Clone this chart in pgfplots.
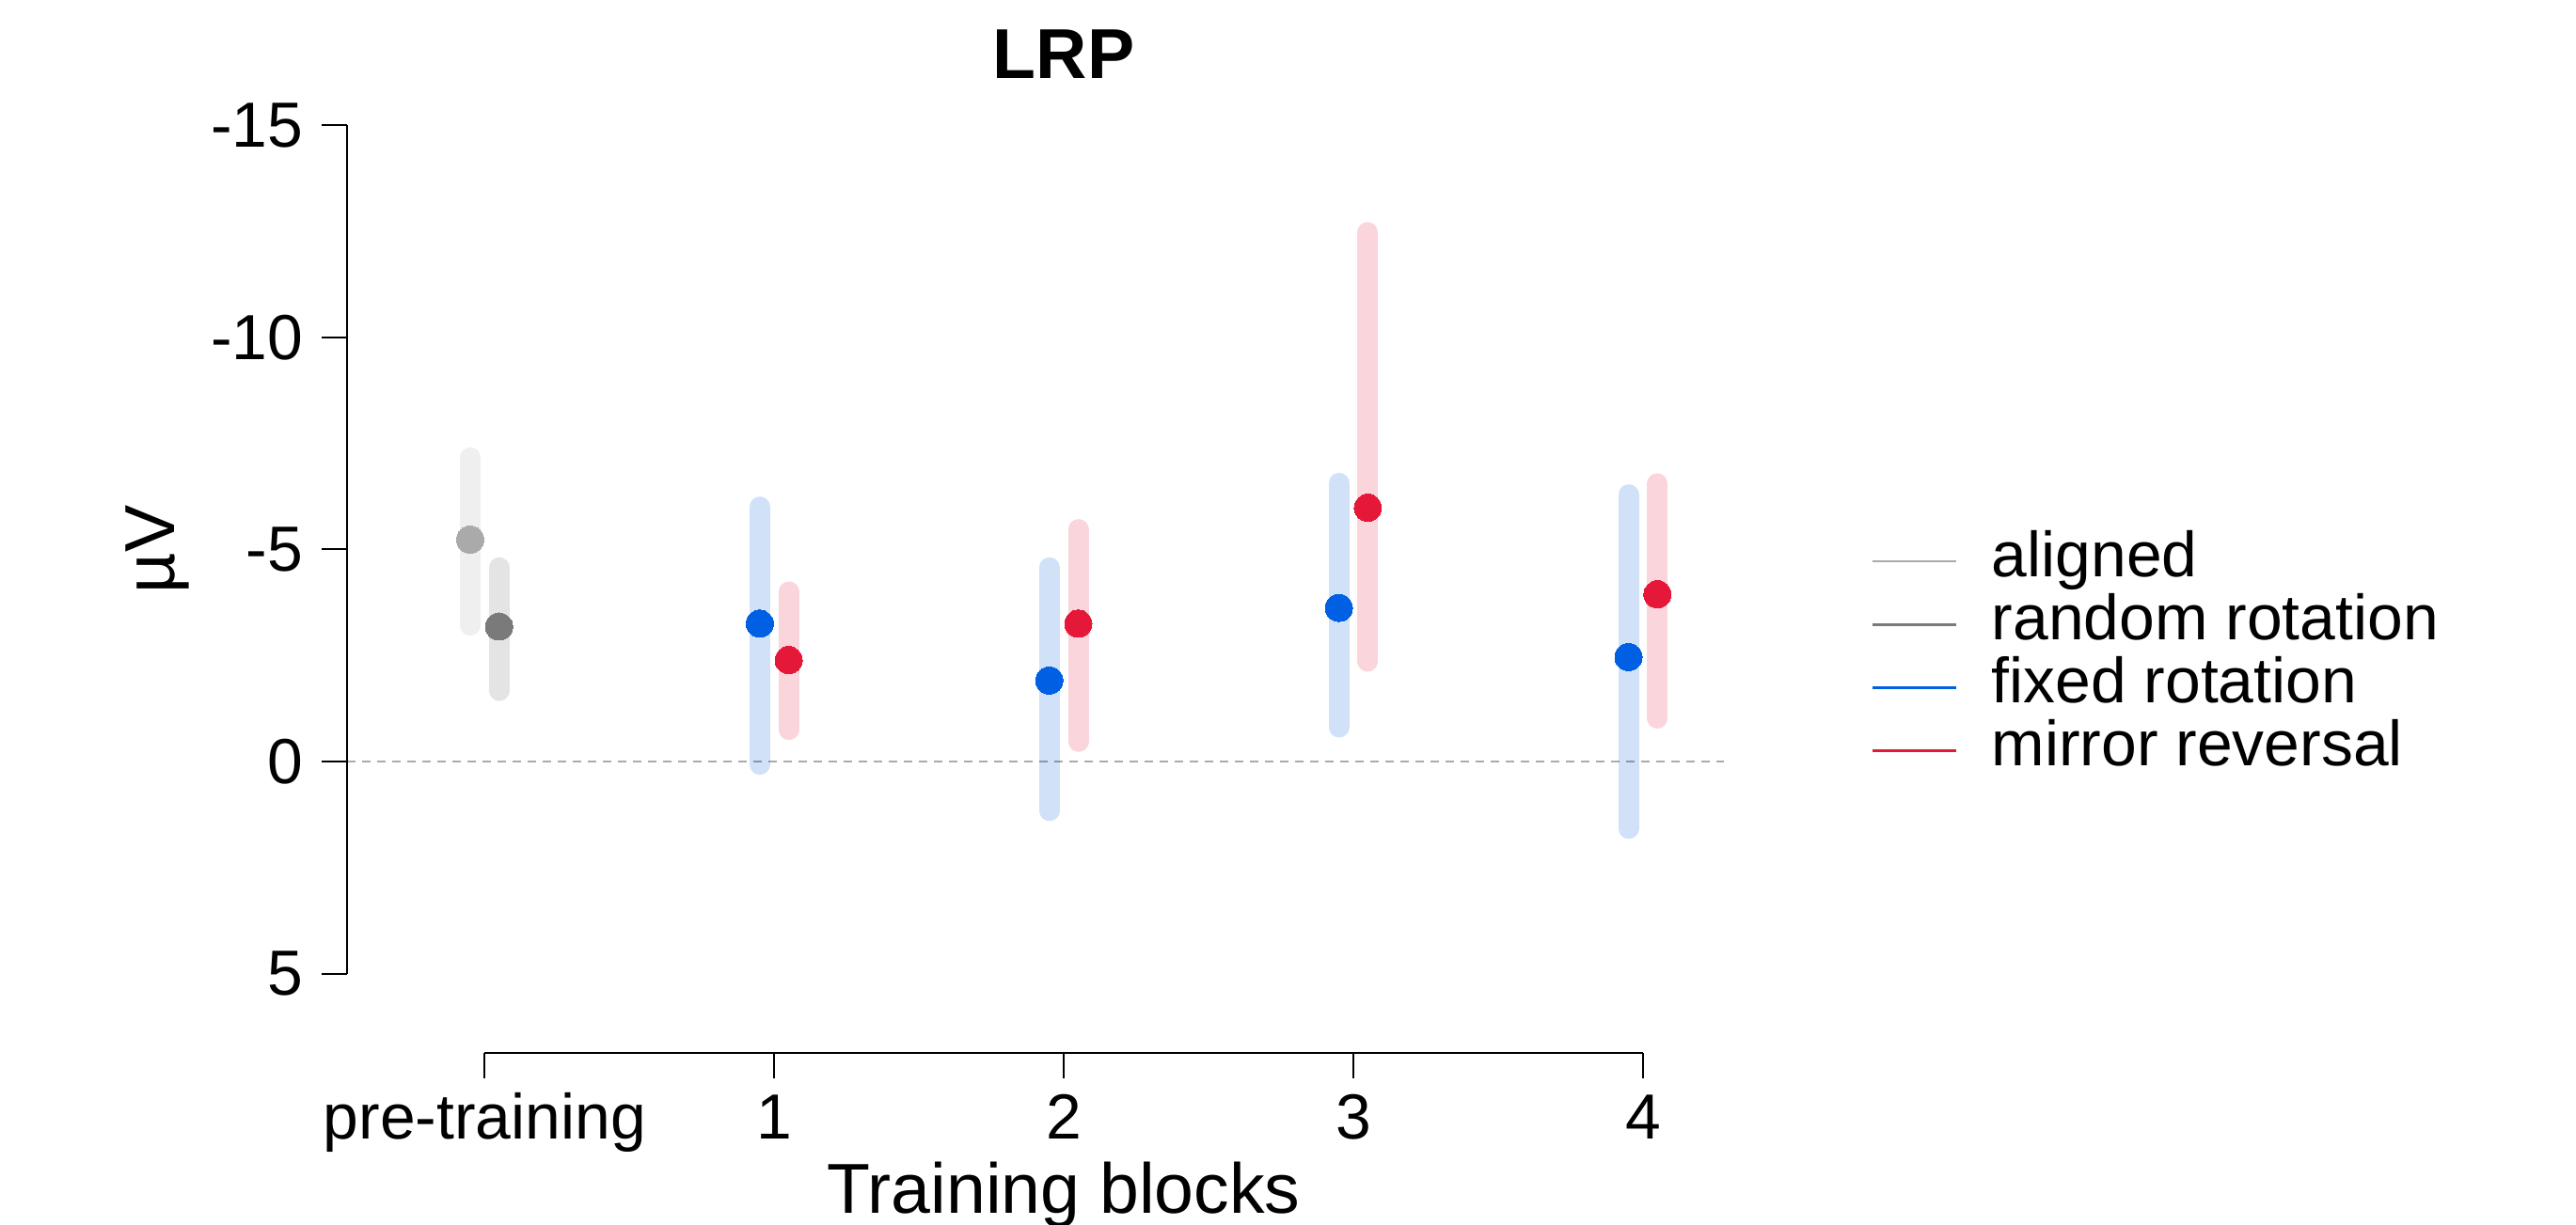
\documentclass[border=0pt]{standalone}
\usepackage{pgfplots}
\pgfplotsset{compat=1.18}
\usepackage{pgfplotstable}
\usepackage{fontspec}
\setmainfont{Liberation Sans}
\definecolor{alignedC}{HTML}{AAAAAA}
\definecolor{randomC}{HTML}{7A7A7A}
\definecolor{fixedC}{HTML}{0060E3}
\definecolor{mirrorC}{HTML}{E6183A}
\definecolor{alignedCI}{HTML}{EFEFEF}
\definecolor{randomCI}{HTML}{E4E4E4}
\definecolor{fixedCI}{HTML}{D0E1F8}
\definecolor{mirrorCI}{HTML}{FAD5DB}
\newcommand\tickfont{\fontsize{19.3}{23}\selectfont}
\newcommand\labfont{\fontsize{21.4}{25}\selectfont}
% x = block position, y = mean, lo/hi = interval ends
\pgfplotstableread{
x y lo hi
-0.05 -5.23 -7.16 -3.21
}\aligned
\pgfplotstableread{
x y lo hi
0.05 -3.18 -4.57 -1.67
}\randomrot
\pgfplotstableread{
x y lo hi
0.95 -3.25 -6.00 0.07
1.95 -1.91 -4.57 1.16
2.95 -3.62 -6.56 -0.81
3.95 -2.46 -6.29 1.58
}\fixedrot
\pgfplotstableread{
x y lo hi
1.05 -2.39 -4.00 -0.75
2.05 -3.25 -5.47 -0.47
3.05 -5.98 -12.47 -2.36
4.05 -3.94 -6.55 -1.02
}\mirror
\pgfplotsset{
  cibar/.style={forget plot, draw=none, mark=none,
    error bars/.cd, y dir=both, y explicit, error mark=none,
    error bar style={line width=2.2mm, line cap=round, #1}},
  meandot/.style={forget plot, only marks, mark=*, mark size=1.45mm, color=#1,
    mark options={draw=#1, fill=#1, line width=0pt}},
}
\begin{document}
\begin{tikzpicture}
\useasboundingbox (0,0) rectangle (273.9mm,130.3mm);
\begin{axis}[
  at={(51.53mm,49.3mm)}, anchor=origin,
  x=30.79mm, y=4.513mm, y dir=reverse,
  xmin=-0.475, xmax=4.28, ymin=-15, ymax=6.87,
  clip=false,
  axis x line*=bottom, axis y line*=left,
  axis line style={draw=none},
  tick align=outside,
  major tick length=2.66mm,
  every tick/.style={black, line width=0.2mm},
  xtick={0,1,2,3,4}, xticklabels={pre-training,1,2,3,4},
  ytick={-15,-10,-5,0,5}, yticklabels={-15,-10,-5,0,5},
  xticklabel style={font=\tickfont, anchor=base, inner sep=0pt, yshift=-6.51mm},
  yticklabel style={font=\tickfont, anchor=east, inner sep=0pt, xshift=-1.97mm},
  xlabel={Training blocks},
  xlabel style={font=\labfont, at={(axis cs:2,6.87)}, anchor=base, inner sep=0pt, yshift=-17mm},
  ylabel={µV},
  ylabel style={font=\labfont, at={(axis cs:-1.0727,-5)}, anchor=base, inner sep=0pt},
  title={LRP},
  title style={font=\bfseries\labfont, at={(axis cs:2,-15.62)}, anchor=base, inner sep=0pt},
  legend cell align=left,
  legend image code/.code={\draw[#1] (0mm,0mm) -- (8.9mm,0mm);},
  legend style={at={(axis description cs:1.1072,0.5639)}, anchor=north west,
    draw=none, fill=none, inner sep=0pt, outer sep=0pt, row sep=0pt,
    column sep=3.6mm, font=\tickfont, nodes={inner sep=0pt}},
]
% axis lines (R style: only over the tick range)
\draw[line width=0.2mm] (axis cs:-0.475,-15) -- (axis cs:-0.475,5);
\draw[line width=0.2mm] (axis cs:0,6.87) -- (axis cs:4,6.87);
% interval bars
\addplot[cibar=alignedCI] table[x=x, y=y, y error plus expr=\thisrow{hi}-\thisrow{y}, y error minus expr=\thisrow{y}-\thisrow{lo}] {\aligned};
\addplot[cibar=randomCI] table[x=x, y=y, y error plus expr=\thisrow{hi}-\thisrow{y}, y error minus expr=\thisrow{y}-\thisrow{lo}] {\randomrot};
\addplot[cibar=fixedCI] table[x=x, y=y, y error plus expr=\thisrow{hi}-\thisrow{y}, y error minus expr=\thisrow{y}-\thisrow{lo}] {\fixedrot};
\addplot[cibar=mirrorCI] table[x=x, y=y, y error plus expr=\thisrow{hi}-\thisrow{y}, y error minus expr=\thisrow{y}-\thisrow{lo}] {\mirror};
% zero line
\addplot[forget plot, black, opacity=0.33, line width=0.25mm, dash pattern=on 0.9mm off 0.7mm] coordinates {(-0.475,0) (4.28,0)};
% means
\addplot[meandot=alignedC] table[x=x, y=y] {\aligned};
\addplot[meandot=randomC] table[x=x, y=y] {\randomrot};
\addplot[meandot=fixedC] table[x=x, y=y] {\fixedrot};
\addplot[meandot=mirrorC] table[x=x, y=y] {\mirror};
% legend
\addlegendimage{alignedC, line width=0.27mm}
\addlegendentry[text height=4.97mm, text depth=1.75mm]{aligned}
\addlegendimage{randomC, line width=0.27mm}
\addlegendentry[text height=4.97mm, text depth=1.75mm]{random rotation}
\addlegendimage{fixedC, line width=0.27mm}
\addlegendentry[text height=4.97mm, text depth=1.75mm]{fixed rotation}
\addlegendimage{mirrorC, line width=0.27mm}
\addlegendentry[text height=4.97mm, text depth=1.75mm]{mirror reversal}
\end{axis}
\end{tikzpicture}
\end{document}
